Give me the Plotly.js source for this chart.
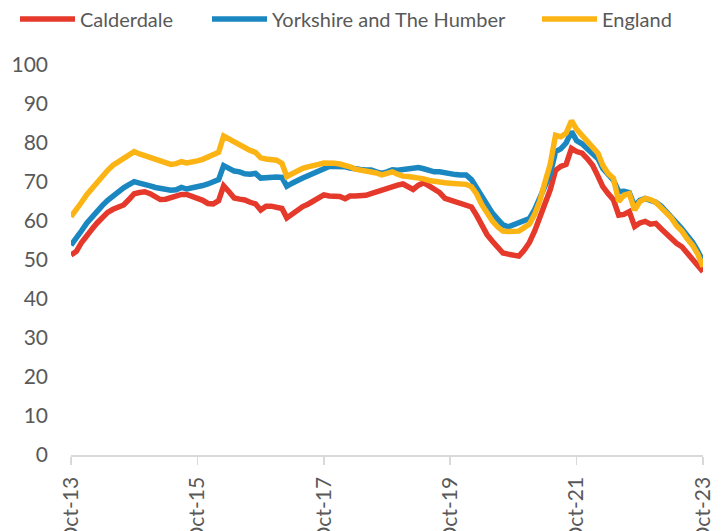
<!DOCTYPE html>
<html><head><meta charset="utf-8">
<script src="https://cdn.plot.ly/plotly-3.0.1.min.js"></script>
<style>html,body{margin:0;padding:0;background:#fff}#chart{width:723px;height:531px}</style>
</head><body><div id="chart"></div>
<script>
const seriesNames = ['Calderdale', 'Yorkshire and The Humber', 'England'];
const tickLabels = ['Oct-13', 'Oct-15', 'Oct-17', 'Oct-19', 'Oct-21', 'Oct-23'];
const tickDates = ['2013-10-01', '2015-10-01', '2017-10-01', '2019-10-01', '2021-10-01', '2023-10-01'];

const calderdale = [
51.3,52.2,54.5,56.5,58,59.5,61,62.2,63,63.6,64.1,65.5,
67,67.3,67.5,67,66.2,65.5,65.6,66,66.3,66.8,66.8,66.4,
66,65.3,64.5,64.4,65.2,69,67.5,65.9,65.6,65.4,64.8,64.4,
62.8,63.8,63.8,63.4,63.2,60.8,61.8,62.8,63.7,64.3,65,66,
66.7,66.4,66.2,66.3,65.7,66.4,66.4,66.4,66.6,67,67.5,68,
68.4,68.8,69.2,69.5,68.8,68.1,69.2,69.8,69,68.1,67.3,65.8,
65.3,64.9,64.4,64,63.6,61.5,58.8,56.5,54.8,53.3,51.8,51.5,
51.4,51,52.5,54.5,57.5,61,64.5,68,73,74,74.5,78.6,
77.8,77.4,76,74.3,71.5,68.8,67,65.5,61.5,61.7,62.4,58.6,
59.5,59.9,59.2,59.4,58,56.8,55.3,54.3,53.4,51.8,50.5,48.8,
47];
const yorkshire = [
53.8,55.5,57.5,59.5,61.2,62.5,64,65.3,66.5,67.5,68.5,69.3,
70.1,69.7,69.5,69,68.6,68.3,68.3,67.9,68,68.6,68.2,68.4,
68.8,69.1,69.5,70,70.6,74.2,73.5,72.8,72.6,72.1,72,72.2,
71,71.2,71.3,71.3,71.2,68.9,69.7,70.5,71,71.6,72.2,72.7,
73.6,74,74,74,73.9,73.6,73.3,73.2,73.1,73.1,72.6,72.2,
72.6,73.1,73,73.2,73.4,73.6,73.7,73.4,73,72.6,72.6,72.3,
72.1,71.9,71.8,71.8,70.6,68.5,66.2,64,62,60.5,59,58.5,
59,59.4,59.8,60.6,63,66,68.8,72,77.8,78.5,80,82.9,
80.6,79.8,78.5,77.3,76,73.5,71.8,70.5,67.5,67.6,67.3,63.8,
65.3,65.8,65.3,64.8,63.8,62.6,61,59.5,58,56.4,54.6,52.3,
49.6];
const england = [
61.1,62.8,64.8,66.8,68.5,70,71.8,73,74.3,75.2,76,77,
77.8,77.2,76.8,76.2,75.7,75.5,75,74.5,74.7,75.2,74.9,75,
75.4,75.8,76.3,76.8,77.6,81.8,81,80.2,79.4,78.6,78.1,77.6,
76.2,75.9,75.8,75.6,74.8,71.4,72.1,72.9,73.5,73.9,74.1,74.5,
74.9,75,74.8,74.6,74.3,73.9,73.3,73.1,72.9,72.6,72.3,71.8,
72.2,72.6,72,71.5,71.4,71.3,71.2,70.8,70.4,70.1,69.9,69.8,
69.7,69.5,69.5,69.4,68.8,67,64.2,61.8,60,58.5,57.4,57.3,
57.3,57.4,58.3,59.2,61.8,65,70,74.5,82,81.6,82.5,85.7,
83.5,82,80.8,79.2,77.4,74.3,72.2,71,65,66.6,67,62.8,
65,65.8,65.5,64.8,63.5,62.3,60.8,58.8,57.4,55.5,53.8,51.5,
48.3];

const months = calderdale.map((_, i) => {
  const d = new Date(Date.UTC(2013, 9 + i, 1));
  return d.toISOString().slice(0, 10);
});

const colors = ['#E5392B', '#1B87C1', '#FCB415'];
const dataSets = [calderdale, yorkshire, england];
const legendIds = ['legend', 'legend2', 'legend3'];
const traces = dataSets.map((vals, k) => ({
  x: months, y: vals, type: 'scatter', mode: 'lines',
  name: seriesNames[k], legend: legendIds[k],
  line: {color: colors[k], width: 5.5}
}));

const font = {family: 'Lato, "Open Sans", sans-serif', size: 21, color: '#595959'};
const legFont = {family: 'Lato, "Open Sans", sans-serif', size: 20, color: '#595959'};
function leg(px) {
  return {orientation: 'h', xref: 'container', yref: 'container', x: px / 723, xanchor: 'left',
          y: 1 - 19 / 531, yanchor: 'middle', font: legFont, itemwidth: 55,
          bgcolor: 'rgba(0,0,0,0)', borderwidth: 0};
}
const layout = {
  width: 723, height: 531,
  margin: {l: 71, r: 20, t: 65, b: 76},
  paper_bgcolor: '#fff', plot_bgcolor: '#fff',
  font: font,
  showlegend: true,
  legend: leg(15), legend2: leg(207), legend3: leg(537),
  xaxis: {type: 'date', range: ['2013-10-01', '2023-10-01'],
          tickvals: tickDates, ticktext: tickLabels, tickangle: -90,
          showgrid: false, zeroline: false, showline: true, linecolor: '#D9D9D9', linewidth: 1.5,
          ticks: 'outside', ticklen: 8, tickcolor: '#D9D9D9', tickwidth: 1.5,
          ticklabelstandoff: 4, tickfont: font},
  yaxis: {range: [0, 100], dtick: 10, tick0: 0, showgrid: false, zeroline: false,
          showline: false, ticks: '', ticklabelstandoff: 22, tickfont: font}
};
Plotly.newPlot('chart', traces, layout, {displayModeBar: false, staticPlot: true});
</script></body></html>
